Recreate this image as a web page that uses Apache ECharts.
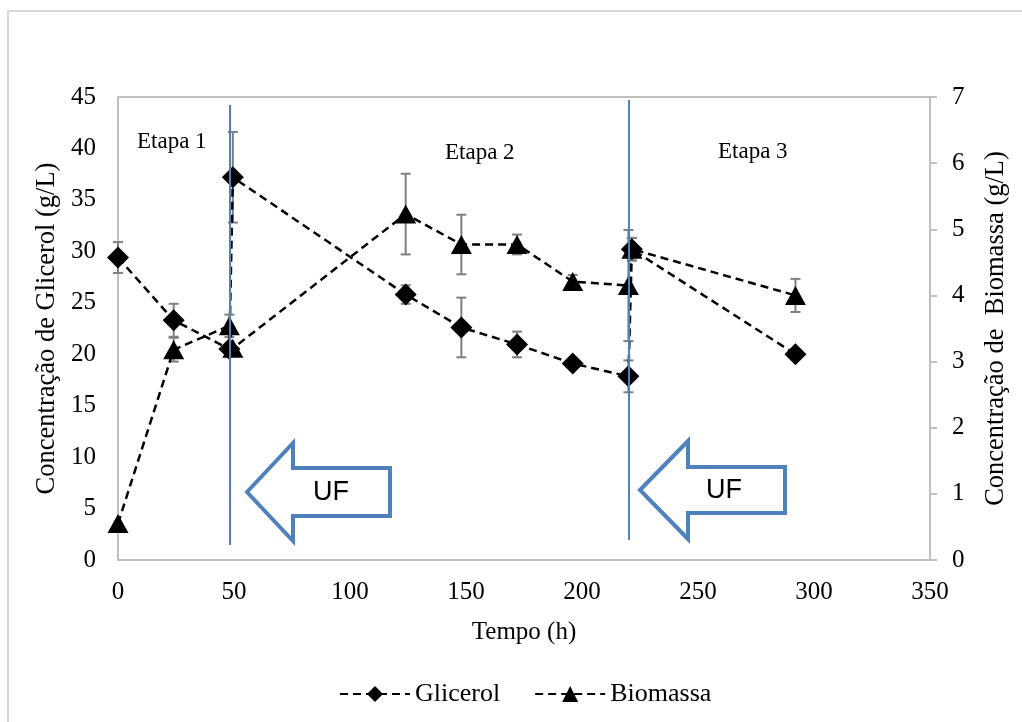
<!DOCTYPE html>
<html>
<head>
<meta charset="utf-8">
<script src="https://cdn.jsdelivr.net/npm/echarts@6/dist/echarts.min.js"></script>
<style>
html,body{margin:0;padding:0;background:#fff;}
#chart{width:1022px;height:722px;}
</style>
</head>
<body>
<div id="chart"></div>
<script>
// ---- Data ----
const tempoGlicerol = [0, 24, 48, 49.5, 124, 148, 172, 196, 220, 221.5, 292];
const glicerol      = [29.4, 23.3, 20.5, 37.2, 25.8, 22.6, 20.95, 19.1, 17.85, 30.2, 20.0];
const glicerolErr   = [1.5, 1.6, 0.5, 4.4, 0.9, 2.9, 1.25, 0.3, 1.55, 1.1, 0.5];

const tempoBiomassa = [0, 24, 48, 49.5, 124, 148, 172, 196, 220, 221.5, 292];
const biomassa      = [0.55, 3.18, 3.54, 3.2, 5.23, 4.77, 4.77, 4.21, 4.15, 4.7, 4.0];
const biomassaErr   = [0, 0.18, 0.17, 0, 0.61, 0.45, 0.15, 0.1, 0.84, 0.17, 0.25];

const xTicks = [0, 50, 100, 150, 200, 250, 300, 350];
const yLeftTicks = [0, 5, 10, 15, 20, 25, 30, 35, 40, 45];
const yRightTicks = [0, 1, 2, 3, 4, 5, 6, 7];

const etapas = ['Etapa 1', 'Etapa 2', 'Etapa 3'];
const serieNames = ['Glicerol', 'Biomassa'];

// ---- Build ----
const serif = '"Liberation Serif", "Times New Roman", serif';
const sans = '"Liberation Sans", Arial, sans-serif';
const blue = '#4F81BD';
const axisGray = '#BFBFBF';

function zip(xs, ys) { return xs.map((x, i) => [x, ys[i]]); }
function zip3(xs, ys, es) { return xs.map((x, i) => [x, ys[i], es[i]]); }

function errRender(params, api) {
  const x = api.value(0), y = api.value(1), e = api.value(2);
  if (!e) return null;
  const top = api.coord([x, y + e]);
  const bot = api.coord([x, y - e]);
  const cap = 5;
  const style = { stroke: '#7F7F7F', lineWidth: 2 };
  return {
    type: 'group',
    children: [
      { type: 'line', shape: { x1: top[0], y1: top[1], x2: bot[0], y2: bot[1] }, style },
      { type: 'line', shape: { x1: top[0] - cap, y1: top[1], x2: top[0] + cap, y2: top[1] }, style },
      { type: 'line', shape: { x1: bot[0] - cap, y1: bot[1], x2: bot[0] + cap, y2: bot[1] }, style }
    ]
  };
}

function arrow(tipX, tipY, headX, shaftRight, headHalf, shaftHalf) {
  return [
    [tipX, tipY],
    [headX, tipY - headHalf],
    [headX, tipY - shaftHalf],
    [shaftRight, tipY - shaftHalf],
    [shaftRight, tipY + shaftHalf],
    [headX, tipY + shaftHalf],
    [headX, tipY + headHalf]
  ];
}

const chart = echarts.init(document.getElementById('chart'));
const option = {
  animation: false,
  backgroundColor: '#fff',
  grid: {
    left: 118, right: 92, top: 97, bottom: 162,
    show: true, borderColor: axisGray, borderWidth: 2, backgroundColor: 'transparent'
  },
  xAxis: {
    type: 'value', min: xTicks[0], max: xTicks[xTicks.length - 1], interval: 50,
    name: 'Tempo (h)', nameLocation: 'middle', nameGap: 60,
    nameTextStyle: { fontFamily: serif, fontSize: 25, color: '#000' },
    axisLine: { show: true, lineStyle: { color: axisGray, width: 2 } },
    axisTick: { show: false },
    splitLine: { show: false },
    axisLabel: { fontFamily: serif, fontSize: 25, color: '#000', margin: 20 }
  },
  yAxis: [
    {
      type: 'value', min: yLeftTicks[0], max: yLeftTicks[yLeftTicks.length - 1], interval: 5,
      name: 'Concentração de Glicerol (g/L)', nameLocation: 'middle', nameGap: 57,
      nameTextStyle: { fontFamily: serif, fontSize: 26.5, color: '#000' },
      axisLine: { show: true, lineStyle: { color: axisGray, width: 2 } },
      axisTick: { show: false },
      splitLine: { show: false },
      axisLabel: { fontFamily: serif, fontSize: 25, color: '#000', margin: 22 }
    },
    {
      type: 'value', min: yRightTicks[0], max: yRightTicks[yRightTicks.length - 1], interval: 1,
      position: 'right',
      name: 'Concentração de  Biomassa (g/L)', nameLocation: 'middle', nameGap: 53,
      nameRotate: 90,
      nameTextStyle: { fontFamily: serif, fontSize: 26.5, color: '#000' },
      axisLine: { show: true, lineStyle: { color: axisGray, width: 2 } },
      axisTick: { show: true, length: 7, lineStyle: { color: axisGray, width: 2 } },
      splitLine: { show: false },
      axisLabel: { fontFamily: serif, fontSize: 25, color: '#000', margin: 22 }
    }
  ],
  legend: {
    data: serieNames,
    left: 334, top: 676,
    itemWidth: 70, itemHeight: 20, itemGap: 34,
    textStyle: { fontFamily: serif, fontSize: 26, color: '#000' }
  },
  series: [
    {
      name: 'GlicerolErr', type: 'custom', xAxisIndex: 0, yAxisIndex: 0,
      data: zip3(tempoGlicerol, glicerol, glicerolErr), renderItem: errRender, z: 1,
      encode: { x: 0, y: 1 }, silent: true
    },
    {
      name: 'BiomassaErr', type: 'custom', xAxisIndex: 0, yAxisIndex: 1,
      data: zip3(tempoBiomassa, biomassa, biomassaErr), renderItem: errRender, z: 1,
      encode: { x: 0, y: 1 }, silent: true
    },
    {
      name: serieNames[0], type: 'line', yAxisIndex: 0, z: 3,
      data: zip(tempoGlicerol, glicerol),
      symbol: 'diamond', symbolSize: [22, 22],
      lineStyle: { color: '#000', width: 2.5, type: [8, 5] },
      itemStyle: { color: '#000' }
    },
    {
      name: serieNames[1], type: 'line', yAxisIndex: 1, z: 3,
      data: zip(tempoBiomassa, biomassa),
      symbol: 'triangle', symbolSize: [21, 19],
      lineStyle: { color: '#000', width: 2.5, type: [8, 5] },
      itemStyle: { color: '#000' }
    }
  ],
  graphic: [
    { type: 'rect', shape: { x: 8, y: 11, width: 1100, height: 800 }, style: { fill: 'none', stroke: '#D9D9D9', lineWidth: 2 }, z: 0, silent: true },
    { type: 'line', shape: { x1: 230, y1: 105, x2: 230, y2: 545 }, style: { stroke: blue, lineWidth: 2 }, z: 100 },
    { type: 'line', shape: { x1: 629, y1: 100, x2: 629, y2: 540 }, style: { stroke: blue, lineWidth: 2 }, z: 100 },
    { type: 'polygon', shape: { points: arrow(247, 492, 293, 390, 49, 24) }, style: { fill: '#fff', stroke: blue, lineWidth: 4 }, z: 100 },
    { type: 'polygon', shape: { points: arrow(640, 490, 688, 785, 49, 23) }, style: { fill: '#fff', stroke: blue, lineWidth: 4 }, z: 100 },
    { type: 'text', x: 331, y: 493, style: { text: 'UF', fontFamily: sans, fontSize: 27, fill: '#000', textAlign: 'center', textVerticalAlign: 'middle' }, z: 101 },
    { type: 'text', x: 724, y: 491, style: { text: 'UF', fontFamily: sans, fontSize: 27, fill: '#000', textAlign: 'center', textVerticalAlign: 'middle' }, z: 101 },
    { type: 'text', x: 137, y: 142, style: { text: etapas[0], fontFamily: serif, fontSize: 23, fill: '#000', textAlign: 'left', textVerticalAlign: 'middle' }, z: 101 },
    { type: 'text', x: 445, y: 153, style: { text: etapas[1], fontFamily: serif, fontSize: 23, fill: '#000', textAlign: 'left', textVerticalAlign: 'middle' }, z: 101 },
    { type: 'text', x: 718, y: 152, style: { text: etapas[2], fontFamily: serif, fontSize: 23, fill: '#000', textAlign: 'left', textVerticalAlign: 'middle' }, z: 101 }
  ]
};
chart.setOption(option);
</script>
</body>
</html>
